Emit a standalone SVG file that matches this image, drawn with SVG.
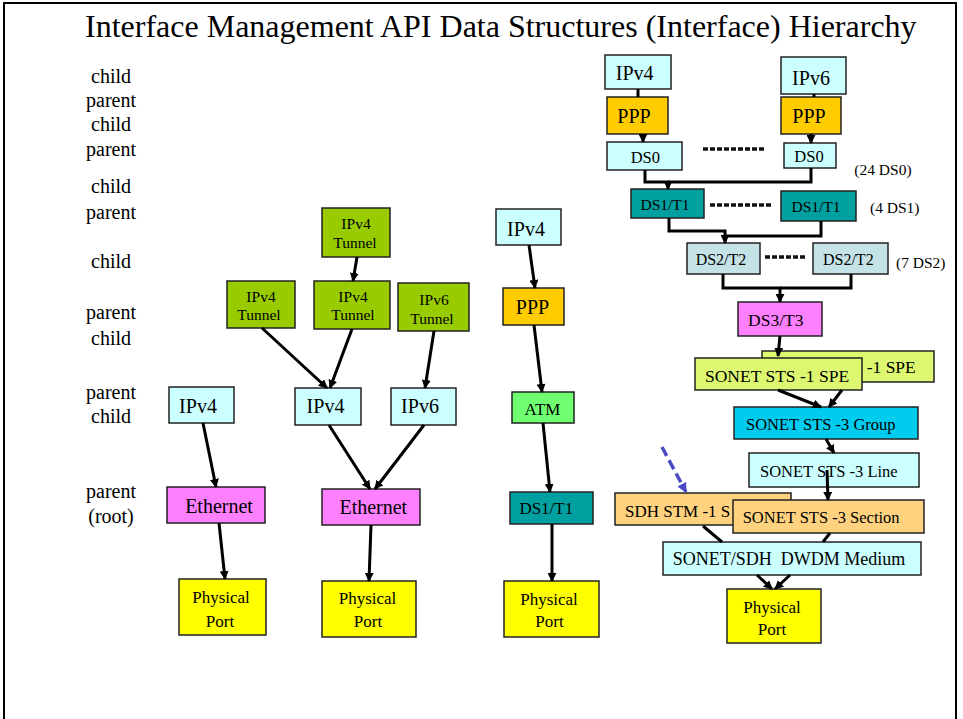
<svg xmlns="http://www.w3.org/2000/svg" width="963" height="719" viewBox="0 0 963 719">
<defs>
<marker id="arr" viewBox="0 0 10 10" refX="9" refY="5" markerWidth="9" markerHeight="9" markerUnits="userSpaceOnUse" orient="auto">
<path d="M0,0 L10,5 L0,10 z" fill="#000"/>
</marker>
<marker id="arrb" viewBox="0 0 10 10" refX="9" refY="5" markerWidth="10" markerHeight="10" markerUnits="userSpaceOnUse" orient="auto">
<path d="M0,0 L10,5 L0,10 z" fill="#4a4ac4"/>
</marker>
</defs>
<style>
text{font-family:"Liberation Serif","Times New Roman",serif;fill:#000}
rect.b{stroke:#222;stroke-width:1.5}
.cy{fill:#CCFFFF}
.tn{fill:#99CC00}
.pk{fill:#FF80FF}
.ye{fill:#FFFF00}
.go{fill:#FFCC00}
.gr{fill:#70FF70}
.te{fill:#00A0A0}
.d2{fill:#C5E3E6}
.sp{fill:#DDF870}
.bl{fill:#00CCF0}
.or{fill:#FFD27F}
.m{text-anchor:middle}
.f20{font-size:20px}
.f17{font-size:17px}
.f16{font-size:16.5px}
.f15{font-size:15.5px}
.c{stroke:#000;stroke-width:3;fill:none;marker-end:url(#arr)}
.cn{stroke:#000;stroke-width:3;fill:none}
.dots{stroke:#111;stroke-width:3.5;stroke-dasharray:5 2;fill:none}
</style>
<rect x="4" y="3" width="952" height="800" fill="#fff" stroke="#000" stroke-width="2"/>
<text x="85" y="37" font-size="32">Interface Management API Data Structures (Interface) Hierarchy</text>

<g id="level-labels" class="f20">
<text class="m" x="111" y="83">child</text>
<text class="m" x="111" y="107">parent</text>
<text class="m" x="111" y="131">child</text>
<text class="m" x="111" y="156">parent</text>
<text class="m" x="111" y="193">child</text>
<text class="m" x="111" y="219">parent</text>
<text class="m" x="111" y="268">child</text>
<text class="m" x="111" y="319">parent</text>
<text class="m" x="111" y="345">child</text>
<text class="m" x="111" y="399">parent</text>
<text class="m" x="111" y="423">child</text>
<text class="m" x="111" y="498">parent</text>
<text class="m" x="111" y="523">(root)</text>
</g>

<!-- Left tree 1 -->
<g id="n-ipv4-a"><rect class="b cy" x="169" y="387" width="65" height="36"/><text class="m f20" x="198" y="413">IPv4</text></g>
<g id="n-eth-a"><rect class="b pk" x="167" y="487" width="98" height="36"/><text class="m f20" x="219" y="513">Ethernet</text></g>
<g id="n-port-a"><rect class="b ye" x="179" y="579" width="87" height="56"/><text class="m f17" x="221" y="603">Physical</text><text class="m f17" x="220" y="626.5">Port</text></g>

<!-- Left tree 2 -->
<g id="n-tun4-top"><rect class="b tn" x="322" y="208" width="68" height="49"/><text class="m f15" x="356" y="229">IPv4</text><text class="m f15" x="355" y="248">Tunnel</text></g>
<g id="n-tun4-l"><rect class="b tn" x="227" y="281" width="68" height="47"/><text class="m f15" x="261" y="301.5">IPv4</text><text class="m f15" x="259" y="320">Tunnel</text></g>
<g id="n-tun4-m"><rect class="b tn" x="314" y="281" width="76" height="48"/><text class="m f15" x="353" y="301.5">IPv4</text><text class="m f15" x="353" y="320">Tunnel</text></g>
<g id="n-tun6"><rect class="b tn" x="398" y="283" width="71" height="48"/><text class="m f15" x="434" y="305">IPv6</text><text class="m f15" x="432" y="324">Tunnel</text></g>
<g id="n-ipv4-b"><rect class="b cy" x="295" y="388" width="66" height="37"/><text class="m f20" x="325.5" y="413">IPv4</text></g>
<g id="n-ipv6-b"><rect class="b cy" x="391" y="388" width="65" height="37"/><text class="m f20" x="420" y="413">IPv6</text></g>
<g id="n-eth-b"><rect class="b pk" x="322" y="489" width="98" height="36"/><text class="m f20" x="373.3" y="514">Ethernet</text></g>
<g id="n-port-b"><rect class="b ye" x="322" y="581" width="94" height="56"/><text class="m f17" x="367.5" y="604">Physical</text><text class="m f17" x="368" y="626.5">Port</text></g>

<!-- Middle column -->
<g id="n-ipv4-c"><rect class="b cy" x="496" y="209" width="65" height="36"/><text class="m f20" x="526" y="235.5">IPv4</text></g>
<g id="n-ppp-c"><rect class="b go" x="503" y="288" width="61" height="37"/><text class="m f20" x="532.5" y="314">PPP</text></g>
<g id="n-atm"><rect class="b gr" x="512" y="392" width="62" height="31"/><text class="m f17" x="542.5" y="415">ATM</text></g>
<g id="n-ds1-c"><rect class="b te" x="510" y="492" width="83" height="32"/><text class="m f17" x="546.3" y="514">DS1/T1</text></g>
<g id="n-port-c"><rect class="b ye" x="504" y="581" width="95" height="56"/><text class="m f17" x="549" y="605">Physical</text><text class="m f17" x="549.5" y="626.5">Port</text></g>

<!-- Right column -->
<g id="n-ipv4-r"><rect class="b cy" x="605" y="55" width="66" height="34"/><text class="m f20" x="634.7" y="80">IPv4</text></g>
<g id="n-ipv6-r"><rect class="b cy" x="781" y="57" width="65" height="37"/><text class="m f20" x="811" y="85">IPv6</text></g>
<g id="n-ppp-r1"><rect class="b go" x="607" y="97" width="61" height="37"/><text class="m f20" x="634" y="122.5">PPP</text></g>
<g id="n-ppp-r2"><rect class="b go" x="781" y="97" width="60" height="37"/><text class="m f20" x="809" y="122.5">PPP</text></g>
<g id="n-ds0-1"><rect class="b cy" x="607" y="142" width="75" height="28"/><text class="m f16" x="645.3" y="162.5">DS0</text></g>
<g id="n-ds0-2"><rect class="b cy" x="784" y="143" width="52" height="25"/><text class="m f16" x="809" y="162.3">DS0</text></g>
<text class="f15" x="854.3" y="174.5">(24 DS0)</text>
<g id="n-ds1-1"><rect class="b te" x="631" y="189" width="73" height="29"/><text class="m f15" x="665" y="209.5">DS1/T1</text></g>
<g id="n-ds1-2"><rect class="b te" x="781" y="191" width="75" height="30"/><text class="m f15" x="816" y="211.5">DS1/T1</text></g>
<text class="f15" x="870" y="213.3">(4 DS1)</text>
<g id="n-ds2-1"><rect class="b d2" x="687" y="243" width="73" height="31"/><text class="m" font-size="16" x="721" y="265">DS2/T2</text></g>
<g id="n-ds2-2"><rect class="b d2" x="813" y="243" width="75" height="31"/><text class="m" font-size="16" x="848.3" y="265">DS2/T2</text></g>
<text class="f15" x="896" y="268">(7 DS2)</text>
<g id="n-ds3"><rect class="b pk" x="738" y="302" width="84" height="34"/><text class="m" font-size="17.5" x="775.8" y="325.7">DS3/T3</text></g>
<g id="n-spe-back"><rect class="b sp" x="762" y="351" width="172" height="31"/><text font-size="17.5" x="866.7" y="373.3">-1 SPE</text></g>
<g id="n-spe"><rect class="b sp" x="695" y="358" width="167" height="32"/><text font-size="17.5" x="705" y="381.7">SONET STS -1 SPE</text></g>
<g id="n-group"><rect class="b bl" x="734" y="407" width="184" height="32"/><text class="f16" x="746" y="430">SONET STS -3 Group</text></g>
<g id="n-line"><rect class="b cy" x="749" y="453" width="170" height="34"/><text class="f16" x="760" y="477.3">SONET STS -3 Line</text></g>
<g id="n-sdh"><rect class="b or" x="615" y="493" width="176" height="32"/><text class="f17" x="625" y="516.7">SDH STM -1 S</text></g>
<g id="n-section"><rect class="b or" x="733" y="500" width="191" height="33"/><text class="f16" x="742.7" y="523.3">SONET STS -3 Section</text></g>
<g id="n-medium"><rect class="b cy" x="663" y="542" width="258" height="33"/><text font-size="18" x="672.7" y="565" xml:space="preserve">SONET/SDH  DWDM Medium</text></g>
<g id="n-port-r"><rect class="b ye" x="727" y="589" width="94" height="54"/><text class="m f17" x="772" y="613.3">Physical</text><text class="m f17" x="772" y="635">Port</text></g>

<g id="ellipses">
<line class="dots" x1="703" y1="149" x2="766" y2="149"/>
<line class="dots" x1="710" y1="205" x2="773" y2="205"/>
<line class="dots" x1="765" y1="257" x2="805" y2="257"/>
</g>

<g id="connectors">
<line class="c" x1="203" y1="423" x2="216" y2="487"/>
<line class="c" x1="219" y1="523" x2="225" y2="579"/>
<line class="c" x1="357" y1="257" x2="353" y2="281"/>
<line class="c" x1="262" y1="328" x2="327" y2="388"/>
<line class="c" x1="352" y1="329" x2="330" y2="388"/>
<line class="c" x1="434" y1="331" x2="425" y2="388"/>
<line class="c" x1="329" y1="425" x2="370" y2="489"/>
<line class="c" x1="424" y1="425" x2="375" y2="489"/>
<line class="c" x1="371" y1="525" x2="369" y2="581"/>
<line class="c" x1="529" y1="245" x2="535" y2="288"/>
<line class="c" x1="534" y1="325" x2="542" y2="392"/>
<line class="c" x1="543" y1="423" x2="550" y2="492"/>
<line class="c" x1="552" y1="524" x2="552" y2="581"/>
<line class="cn" x1="638" y1="89" x2="638" y2="97"/>
<line class="cn" x1="814" y1="94" x2="814" y2="97"/>
<line class="c" x1="643" y1="134" x2="643" y2="142"/>
<line class="c" x1="811" y1="134" x2="811" y2="143"/>
<polyline class="c" points="645,170 645,182 668,182 668,189"/>
<polyline class="cn" points="811,168 811,182 668,182"/>
<polyline class="c" points="669,218 669,231 725,231 725,243"/>
<polyline class="cn" points="821,221 821,236 726,236"/>
<polyline class="c" points="723,274 723,288 780,288 780,302"/>
<polyline class="cn" points="851,274 851,288 780,288"/>
<line class="c" x1="780" y1="336" x2="778" y2="356"/>
<line class="c" x1="778" y1="390" x2="821" y2="407"/>
<line class="c" x1="842" y1="390" x2="829" y2="407"/>
<line class="c" x1="826" y1="439" x2="834" y2="453"/>
<line class="c" x1="827" y1="470" x2="828" y2="500"/>
<line class="cn" x1="703" y1="526" x2="722" y2="542"/>
<line class="cn" x1="830" y1="533" x2="823" y2="542"/>
<line class="c" x1="757" y1="575" x2="772" y2="589"/>
<line class="c" x1="790" y1="575" x2="775" y2="589"/>
<line x1="662" y1="447" x2="686" y2="492" stroke="#4a4ac4" stroke-width="3.5" stroke-dasharray="10 5" marker-end="url(#arrb)"/>
</g>
</svg>
